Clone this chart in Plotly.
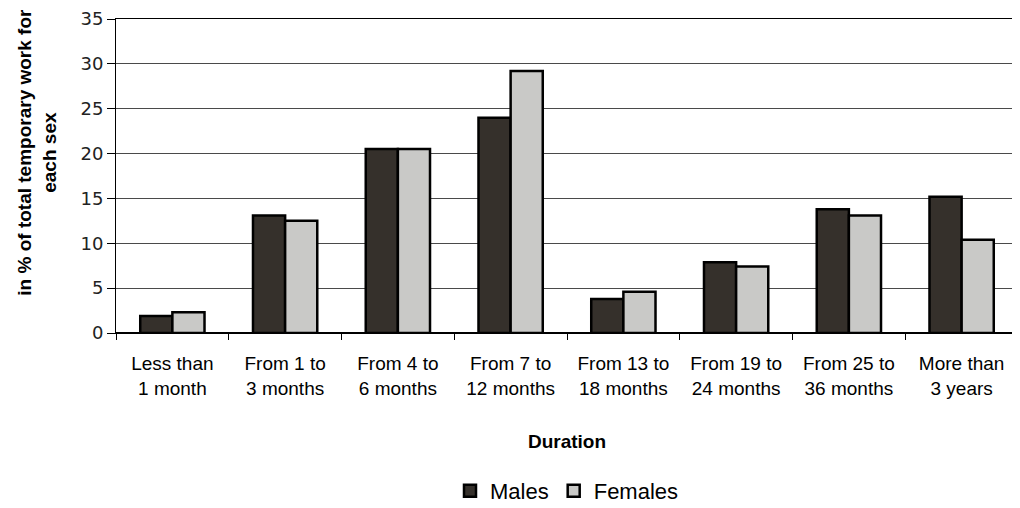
import plotly.graph_objects as go

categories = ["Less than<br>1 month", "From 1 to<br>3 months", "From 4 to<br>6 months",
              "From 7 to<br>12 months", "From 13 to<br>18 months", "From 19 to<br>24 months",
              "From 25 to<br>36 months", "More than<br>3 years"]
males = [1.9, 13.1, 20.5, 24.0, 3.8, 7.9, 13.8, 15.2]
females = [2.3, 12.5, 20.5, 29.2, 4.6, 7.4, 13.1, 10.4]
y_ticks = [0, 5, 10, 15, 20, 25, 30, 35]

narrow = "Liberation Sans Narrow, Arial Narrow, Liberation Sans, Arial, sans-serif"

fig = go.Figure()
fig.add_trace(go.Bar(name="Males", x=categories, y=males,
                     marker=dict(color="#35302b", line=dict(color="black", width=2.5))))
fig.add_trace(go.Bar(name="Females", x=categories, y=females,
                     marker=dict(color="#c9c9c7", line=dict(color="black", width=2.5))))

fig.add_annotation(text="<b>in % of total temporary work for<br>each sex</b>",
                   xref="paper", yref="paper", x=-0.087, y=0.576,
                   xanchor="center", yanchor="middle", textangle=-90, showarrow=False,
                   font=dict(family="Liberation Sans, Arial", size=19, color="black"))

fig.update_layout(
    width=1012, height=500,
    margin=dict(l=108, r=2, t=11, b=175),
    paper_bgcolor="white", plot_bgcolor="white",
    barmode="group", bargap=0.43, bargroupgap=0,
    showlegend=True,
    legend=dict(orientation="h", x=0.5, xanchor="center", yref="container",
                y=0.034, yanchor="middle",
                font=dict(family=narrow, size=22, color="black"),
                itemwidth=30, tracegroupgap=0),
    xaxis=dict(
        type="category", tickson="boundaries", ticks="outside", ticklen=6,
        tickcolor="black", showline=True, linecolor="black", linewidth=1, mirror=True,
        automargin=False, ticklabelstandoff=13,
        tickfont=dict(family=narrow, size=19, color="black"),
        title=dict(text="<b>Duration</b>", font=dict(family=narrow, size=19, color="black"),
                   standoff=37),
    ),
    yaxis=dict(
        range=[0, 35], tickvals=y_ticks, ticks="outside", ticklen=8, tickcolor="black",
        showgrid=True, gridcolor="#4a4a4a", gridwidth=1,
        showline=True, linecolor="black", linewidth=1, mirror=True,
        zeroline=True, zerolinecolor="black", automargin=False,
        tickfont=dict(family="DejaVu Sans", size=18, color="#222"),
    ),
)

fig.write_html("out.html")
